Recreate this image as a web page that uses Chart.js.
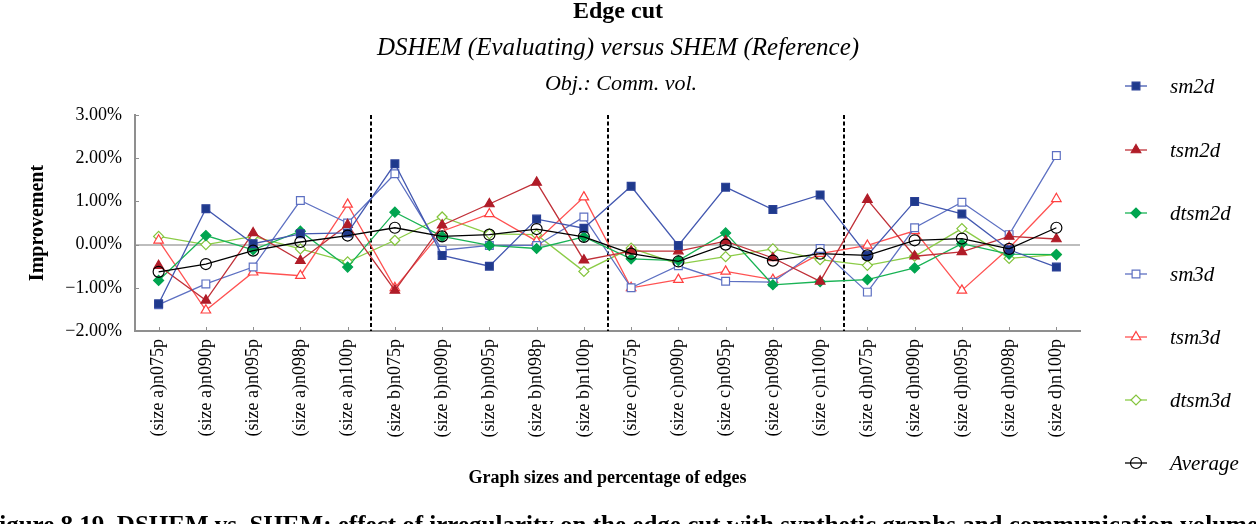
<!DOCTYPE html>
<html>
<head>
<meta charset="utf-8">
<script src="https://cdn.jsdelivr.net/npm/chart.js@4.4.0/dist/chart.umd.min.js"></script>
<style>
  html, body { margin: 0; padding: 0; background: #fff; }
  #wrap { width: 1256px; height: 524px; }
</style>
</head>
<body>
<div id="wrap"><canvas id="chart" width="1256" height="524"></canvas></div>
<script>
// categories: graph size group + percentage of edges
const groups = ["a", "b", "c", "d"];
const edgePcts = ["n075p", "n090p", "n095p", "n098p", "n100p"];
const categories = [];
groups.forEach(g => edgePcts.forEach(p => categories.push("(size " + g + ")" + p)));

// improvement in %
const sm2d   = [-1.37, 0.83, 0.02, 0.25, 0.27, 1.87, -0.25, -0.50, 0.59, 0.38, 1.35, -0.02, 1.33, 0.81, 1.15, -0.25, 1.00, 0.71, -0.12, -0.52];
const tsm2d  = [-0.49, -1.29, 0.27, -0.37, 0.46, -1.06, 0.45, 0.94, 1.44, -0.36, -0.15, -0.15, 0.08, -0.31, -0.85, 1.04, -0.27, -0.17, 0.19, 0.13];
const dtsm2d = [-0.83, 0.21, -0.12, 0.31, -0.52, 0.75, 0.19, -0.02, -0.09, 0.18, -0.33, -0.37, 0.27, -0.93, -0.86, -0.81, -0.54, 0.02, -0.22, -0.23];
const sm3d   = [-1.39, -0.91, -0.52, 1.02, 0.50, 1.64, -0.13, -0.02, -0.02, 0.64, -1.00, -0.49, -0.85, -0.87, -0.09, -1.10, 0.39, 0.98, 0.23, 2.06];
const tsm3d  = [0.10, -1.52, -0.64, -0.72, 0.93, -1.00, 0.31, 0.71, 0.08, 1.10, -1.00, -0.81, -0.62, -0.81, -0.21, -0.02, 0.32, -1.06, -0.08, 1.06];
const dtsm3d = [0.19, 0.00, 0.19, -0.10, -0.40, 0.10, 0.64, 0.25, 0.23, -0.62, -0.08, -0.45, -0.28, -0.10, -0.35, -0.48, -0.27, 0.37, -0.32, -0.23];
const average = [-0.63, -0.45, -0.14, 0.06, 0.21, 0.39, 0.19, 0.23, 0.36, 0.18, -0.21, -0.39, 0.00, -0.37, -0.21, -0.25, 0.10, 0.14, -0.10, 0.39];

const yTicks = [-2, -1, 0, 1, 2, 3];
const groupBreaks = [4.5, 9.5, 14.5];

const SERIF = "'Liberation Serif', 'Times New Roman', serif";

function series(label, data, line, fill, border, style, r, order) {
  return {
    label: label,
    data: data,
    borderColor: line,
    backgroundColor: fill,
    borderWidth: 1.3,
    pointStyle: style,
    pointRadius: r,
    pointHoverRadius: r,
    pointBackgroundColor: fill,
    pointBorderColor: border,
    pointBorderWidth: 1.2,
    tension: 0,
    order: order
  };
}

const datasets = [
  series("sm2d", sm2d, "#4358b0", "#1f3a8c", "#2a4096", "rect", 5.5, 0),
  series("tsm2d", tsm2d, "#c03038", "#b01c28", "#b01c28", "triangle", 5.5, 1),
  series("dtsm2d", dtsm2d, "#19b355", "#00a550", "#00a550", "rectRot", 5, 2),
  series("sm3d", sm3d, "#5d70c2", "#ffffff", "#5d70c2", "rect", 5.5, 3),
  series("tsm3d", tsm3d, "#ff5252", "#ffffff", "#ff4040", "triangle", 5.5, 4),
  series("dtsm3d", dtsm3d, "#8ccc48", "#ffffff", "#84c43c", "rectRot", 5, 5),
  series("Average", average, "#000000", "rgba(0,0,0,0)", "#000000", "circle", 5.5, -1)
];

// dotted group separators, small ticks, titles, legend, caption
const decorations = {
  id: "decorations",
  beforeDatasetsDraw(chart) {
    const ctx = chart.ctx;
    const x = chart.scales.x, y = chart.scales.y;
    const area = chart.chartArea;
    ctx.save();
    ctx.strokeStyle = "#000";
    ctx.lineWidth = 2;
    ctx.setLineDash([4, 2.5]);
    groupBreaks.forEach(b => {
      const px = Math.round(x.getPixelForValue(b));
      ctx.beginPath();
      ctx.moveTo(px, area.top);
      ctx.lineTo(px, area.bottom);
      ctx.stroke();
    });
    ctx.setLineDash([]);
    ctx.strokeStyle = "#8f8f8f";
    ctx.lineWidth = 1;
    categories.forEach((c, i) => {
      const px = Math.round(x.getPixelForValue(i)) + 0.5;
      ctx.beginPath();
      ctx.moveTo(px, area.bottom);
      ctx.lineTo(px, area.bottom - 4);
      ctx.stroke();
    });
    yTicks.forEach(v => {
      const py = Math.round(y.getPixelForValue(v)) + 0.5;
      ctx.beginPath();
      ctx.moveTo(area.left, py);
      ctx.lineTo(area.left + 4, py);
      ctx.stroke();
    });
    ctx.restore();
  },
  afterDraw(chart) {
    const ctx = chart.ctx;
    ctx.save();
    ctx.fillStyle = "#000";
    ctx.textAlign = "center";
    ctx.textBaseline = "middle";
    ctx.font = "bold 24px " + SERIF;
    ctx.fillText("Edge cut", 618, 12);
    ctx.font = "italic 25px " + SERIF;
    ctx.fillText("DSHEM (Evaluating) versus SHEM (Reference)", 618, 48);
    ctx.font = "italic 22px " + SERIF;
    ctx.fillText("Obj.: Comm. vol.", 621, 84);

    // legend
    const lx = 1136, tx = 1170;
    const rows = [86, 150, 213, 274, 337, 400, 463];
    chart.data.datasets.forEach((ds, i) => {
      const yy = rows[i];
      ctx.strokeStyle = ds.borderColor;
      ctx.lineWidth = 1.3;
      ctx.beginPath();
      ctx.moveTo(lx - 11, yy);
      ctx.lineTo(lx + 11, yy);
      ctx.stroke();
      ctx.fillStyle = ds.pointBackgroundColor;
      ctx.strokeStyle = ds.pointBorderColor;
      ctx.lineWidth = ds.pointBorderWidth;
      Chart.helpers.drawPoint(ctx, {
        pointStyle: ds.pointStyle,
        radius: ds.pointRadius,
        rotation: 0,
        borderWidth: ds.pointBorderWidth
      }, lx, yy);
      ctx.fillStyle = "#000";
      ctx.textAlign = "left";
      ctx.font = "italic 21px " + SERIF;
      ctx.fillText(ds.label, tx, yy + 1);
    });

    // figure caption, cut by the bottom edge
    ctx.textAlign = "left";
    ctx.textBaseline = "alphabetic";
    ctx.font = "bold 25px " + SERIF;
    ctx.fillText("Figure 8.19. DSHEM vs. SHEM: effect of irregularity on the edge cut with synthetic graphs and communication volume", -16, 533);
    ctx.restore();
  }
};

new Chart(document.getElementById("chart"), {
  type: "line",
  data: { labels: categories, datasets: datasets },
  options: {
    responsive: false,
    animation: false,
    devicePixelRatio: 1,
    layout: { padding: { top: 115, right: 176, left: 0, bottom: 0 } },
    plugins: {
      legend: { display: false },
      tooltip: { enabled: false }
    },
    scales: {
      x: {
        offset: true,
        grid: { display: false, drawTicks: false },
        border: { display: true, color: "#8f8f8f", width: 2 },
        ticks: {
          autoSkip: false,
          minRotation: 90,
          maxRotation: 90,
          padding: 8,
          color: "#000",
          font: { family: SERIF, size: 18 }
        },
        title: {
          display: true,
          text: "Graph sizes and percentage of edges",
          color: "#000",
          font: { family: SERIF, size: 18, weight: "bold" },
          padding: { top: 0, bottom: 35 }
        },
        afterFit: s => { s.height = 193; }
      },
      y: {
        min: -2,
        max: 3,
        afterBuildTicks: s => { s.ticks = yTicks.map(v => ({ value: v })); },
        ticks: {
          padding: 13,
          color: "#000",
          font: { family: SERIF, size: 18 },
          callback: v => (v < 0 ? "\u2212" : "") + Math.abs(v).toFixed(2) + "%"
        },
        grid: {
          drawTicks: false,
          lineWidth: 2,
          color: c => (c.tick && c.tick.value === 0 ? "#bdbdbd" : "rgba(0,0,0,0)")
        },
        border: { color: "#8f8f8f", width: 2 },
        title: {
          display: true,
          text: "Improvement",
          color: "#000",
          font: { family: SERIF, size: 20, weight: "bold" },
          padding: { top: 26, bottom: 0 }
        },
        afterFit: s => { s.width = 135; }
      }
    }
  },
  plugins: [decorations]
});
</script>
</body>
</html>
